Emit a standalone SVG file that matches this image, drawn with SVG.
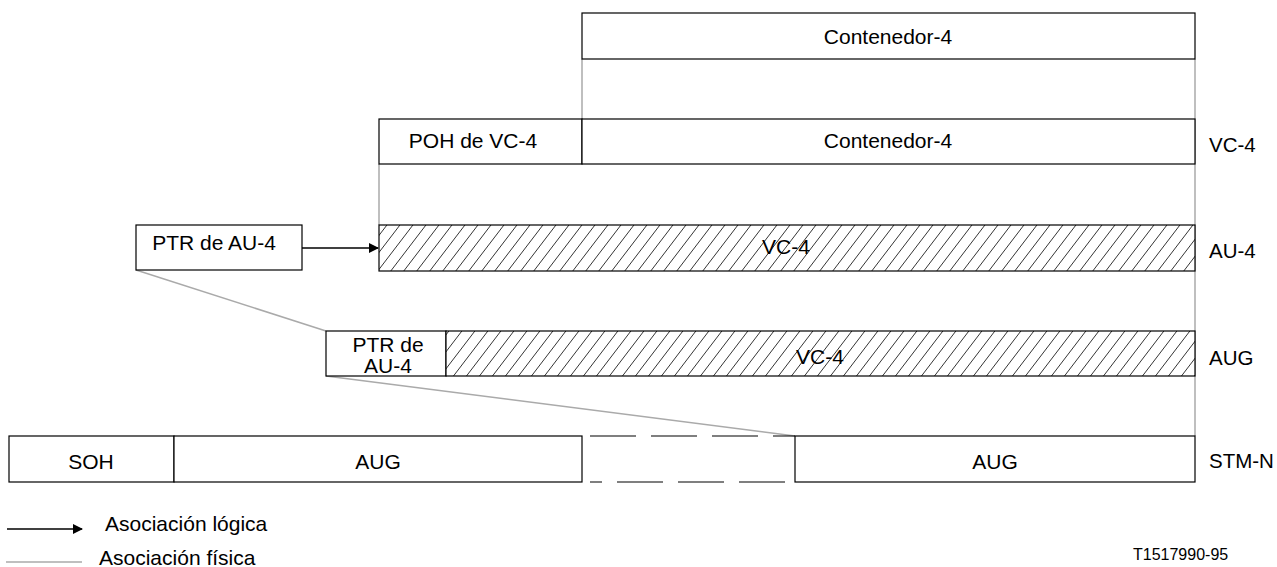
<svg xmlns="http://www.w3.org/2000/svg" width="1277" height="567" viewBox="0 0 1277 567">
<style>
.box{fill:#fff;stroke:#000;stroke-width:1.2}
.hat{fill:url(#hatch);stroke:#000;stroke-width:1.2}
.phys{stroke:#aaa;stroke-width:1.5;fill:none}
.logic{stroke:#000;stroke-width:1.3;fill:none}
text{font-family:"Liberation Sans",Arial,sans-serif;font-size:21px;fill:#000}
.c{text-anchor:middle}
.dash{stroke:#000;stroke-width:1.2;stroke-dasharray:46 15}
</style>
<defs>
<pattern id="hatch" patternUnits="userSpaceOnUse" width="13" height="17">
<rect width="13" height="17" fill="#fff"/>
<path d="M0,17 L13,0 M-13,17 L0,0 M13,17 L26,0" stroke="#000" stroke-width="0.8"/>
</pattern>
<marker id="arr" markerWidth="10" markerHeight="10" refX="9" refY="5" orient="auto" markerUnits="userSpaceOnUse">
<path d="M0,0 L10,5 L0,10 Z" fill="#000"/>
</marker>
</defs>

<g id="connectors">
<line class="phys" x1="582" y1="59" x2="582" y2="119"/>
<line class="phys" x1="1195" y1="59" x2="1195" y2="436"/>
<line class="phys" x1="379" y1="164" x2="379" y2="225"/>
<line class="phys" x1="136" y1="270" x2="326" y2="331"/>
<line class="phys" x1="326" y1="376" x2="795" y2="436"/>
<line class="logic" x1="302" y1="248" x2="378" y2="248" marker-end="url(#arr)"/>
</g>

<g id="contenedor-top">
<rect class="box" x="582" y="13" width="613" height="46"/>
<text class="c" x="888" y="44">Contenedor-4</text>
</g>

<g id="vc4-row">
<rect class="box" x="379" y="119" width="203" height="45"/>
<text class="c" x="473" y="148">POH de VC-4</text>
<rect class="box" x="582" y="119" width="613" height="45"/>
<text class="c" x="888" y="148">Contenedor-4</text>
</g>

<g id="au4-row">
<rect class="hat" x="379" y="225" width="816" height="46"/>
<text class="c" x="786" y="254">VC-4</text>
</g>

<g id="ptr-au4">
<rect class="box" x="136" y="225" width="166" height="45"/>
<text class="c" x="214" y="250">PTR de AU-4</text>
</g>

<g id="aug-row">
<rect class="box" x="326" y="331" width="120" height="45"/>
<text class="c" x="388" y="352">PTR de</text>
<text class="c" x="388" y="373">AU-4</text>
<rect class="hat" x="446" y="331" width="749" height="45"/>
<text class="c" x="820" y="364">VC-4</text>
</g>

<g id="stm-row">
<rect class="box" x="9" y="436" width="165" height="46"/>
<text class="c" x="91" y="469">SOH</text>
<rect class="box" x="174" y="436" width="408" height="46"/>
<text class="c" x="378" y="469">AUG</text>
<line class="dash" x1="590" y1="436" x2="795" y2="436"/>
<line class="dash" x1="590" y1="482" x2="795" y2="482" stroke-dashoffset="34"/>
<rect class="box" x="795" y="436" width="400" height="46"/>
<text class="c" x="995" y="469">AUG</text>
</g>

<g id="side-labels">
<text x="1209" y="152" style="font-size:20.5px">VC-4</text>
<text x="1209" y="258" style="font-size:20.5px">AU-4</text>
<text x="1209" y="365" style="font-size:20.5px">AUG</text>
<text x="1209" y="468" style="font-size:20.5px">STM-N</text>
</g>

<g id="legend">
<line class="logic" x1="7" y1="529" x2="82" y2="529" marker-end="url(#arr)"/>
<text x="105" y="531">Asociación lógica</text>
<line class="phys" x1="6" y1="562" x2="82" y2="562"/>
<text x="99" y="565">Asociación física</text>
<text x="1133" y="560" style="font-size:16px">T1517990-95</text>
</g>
</svg>
